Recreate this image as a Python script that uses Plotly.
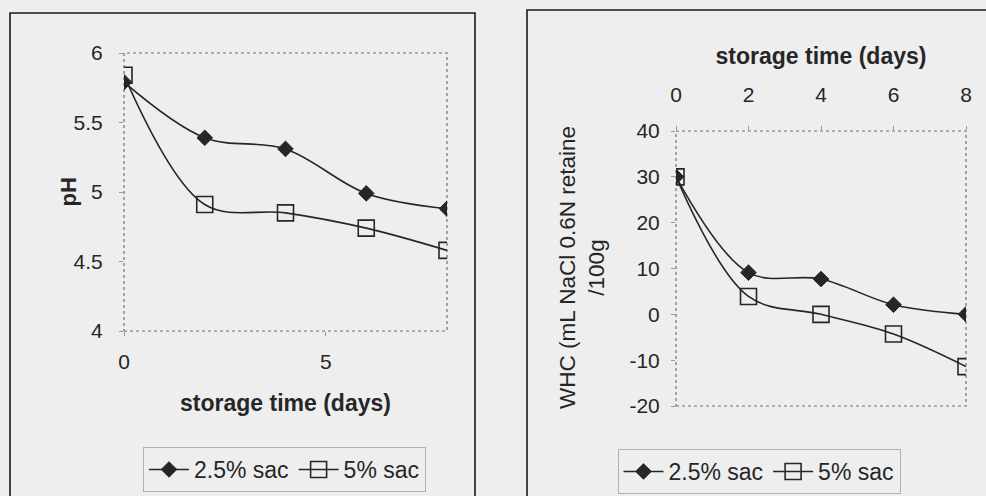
import plotly.graph_objects as go

# ---- data ----
days = [0, 2, 4, 6, 8]
ph_25 = [5.79, 5.39, 5.31, 4.99, 4.88]
ph_5 = [5.84, 4.91, 4.85, 4.74, 4.58]
whc_25 = [30, 9.1, 7.7, 2.1, 0]
whc_5 = [30, 3.9, 0, -4.3, -11.4]
series_names = ["2.5% sac", "5% sac"]
ph_ticks = [4, 4.5, 5, 5.5, 6]
ph_x_ticks = [0, 5]
whc_ticks = [-20, -10, 0, 10, 20, 30, 40]
whc_x_ticks = [0, 2, 4, 6, 8]

W, H = 986, 496
FONT = "Liberation Sans, Arial, sans-serif"
INK = "#262626"
BG = "#eeeeee"

def px(x):
    return x / W

def py(y):
    return 1 - y / H

fig = go.Figure()

line = dict(color=INK, width=1.6, shape="spline", smoothing=1.0)
m_d = dict(symbol="diamond", size=12, color=INK, line=dict(color=INK, width=1))
m_s = dict(symbol="square-open", size=16, color=INK, line=dict(color=INK, width=1.6))

fig.add_trace(go.Scatter(x=days, y=ph_25, name=series_names[0], mode="lines+markers",
                         line=line, marker=m_d, xaxis="x", yaxis="y", legend="legend"))
fig.add_trace(go.Scatter(x=days, y=ph_5, name=series_names[1], mode="lines+markers",
                         line=line, marker=m_s, xaxis="x", yaxis="y", legend="legend"))
fig.add_trace(go.Scatter(x=days, y=whc_25, name=series_names[0], mode="lines+markers",
                         line=line, marker=m_d, xaxis="x2", yaxis="y2", legend="legend2"))
fig.add_trace(go.Scatter(x=days, y=whc_5, name=series_names[1], mode="lines+markers",
                         line=line, marker=m_s, xaxis="x2", yaxis="y2", legend="legend2"))

tickfont = dict(family=FONT, size=21, color=INK)
axis_common = dict(showgrid=False, zeroline=False, showline=False, ticks="outside",
                   ticklen=4, tickcolor="#9a9a9a", tickfont=tickfont)

legend_common = dict(orientation="h", bgcolor="rgba(0,0,0,0)", bordercolor="#b0b0b0",
                     borderwidth=1, font=dict(family=FONT, size=23, color=INK),
                     xanchor="center", yanchor="middle", itemwidth=40, tracegroupgap=0)

title_font = dict(family=FONT, size=23, color=INK)

fig.update_layout(
    width=W, height=H, autosize=False,
    margin=dict(l=0, r=0, t=0, b=0, pad=0, autoexpand=False),
    paper_bgcolor=BG, plot_bgcolor="rgba(0,0,0,0)",
    font=dict(family=FONT, color=INK),
    xaxis=dict(domain=[px(124), px(447)], range=[0, 8], tickvals=ph_x_ticks,
               ticktext=[str(v) for v in ph_x_ticks],
               ticklabelstandoff=8, anchor="y",
               title=dict(text="<b>storage time (days)</b>", font=title_font, standoff=22),
               **axis_common),
    yaxis=dict(domain=[py(331), py(53)], range=[4, 6], tickvals=ph_ticks,
               ticktext=[str(v) for v in ph_ticks], ticklabelstandoff=12, anchor="x",
               **axis_common),
    xaxis2=dict(domain=[px(676), px(966)], range=[0, 8], tickvals=whc_x_ticks,
                ticktext=[str(v) for v in whc_x_ticks], side="top",
                ticklabelstandoff=16, anchor="y2",
                title=dict(text="<b>storage time (days)</b>", font=title_font, standoff=11),
                **axis_common),
    yaxis2=dict(domain=[py(406), py(131)], range=[-20, 40], tickvals=whc_ticks,
                ticktext=[str(v) for v in whc_ticks],
                ticklabelstandoff=7, anchor="x2",
                **axis_common),
    legend=dict(x=px(284.5), y=py(469.5), **legend_common),
    legend2=dict(x=px(759), y=py(471.5), **legend_common),
    showlegend=True,
)

# dotted plot-area frames
for xr, yr in (("x domain", "y domain"), ("x2 domain", "y2 domain")):
    fig.add_shape(type="rect", xref=xr, yref=yr, x0=0, x1=1, y0=0, y1=1,
                  line=dict(color="#707070", width=1.2, dash="dot"), layer="below")

# outer panel boxes
fig.add_shape(type="rect", xref="paper", yref="paper", x0=px(10), x1=px(475), y0=py(510), y1=py(13),
              line=dict(color="#1a1a1a", width=1.6), layer="below")
fig.add_shape(type="rect", xref="paper", yref="paper", x0=px(527), x1=px(1000), y0=py(510), y1=py(10),
              line=dict(color="#1a1a1a", width=1.6), layer="below")

# y-axis titles
fig.add_annotation(text="<b>pH</b>", xref="paper", yref="paper", x=px(53), y=py(192),
                   textangle=-90, showarrow=False, font=dict(family=FONT, size=22, color=INK))
fig.add_annotation(text="WHC (mL NaCl 0.6N retaine<br>/100g", xref="paper", yref="paper",
                   x=px(582), y=py(268), textangle=-90, showarrow=False, align="center",
                   font=dict(family=FONT, size=22.5, color=INK))

fig.write_html("out.html", config={"displayModeBar": False},
               post_script="document.body.style.margin='0';document.body.style.overflow='hidden';")
